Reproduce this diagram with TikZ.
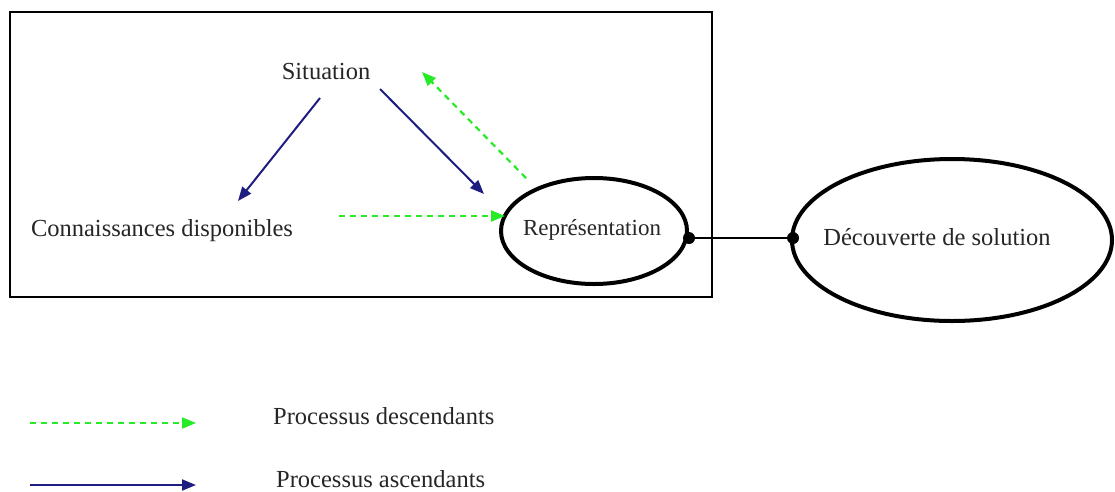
\documentclass[tikz,border=0pt]{standalone}
\usepackage{fontspec}
\setmainfont{Liberation Serif}
\usetikzlibrary{arrows.meta}
\definecolor{asc}{RGB}{30,30,128}
\definecolor{desc}{RGB}{40,235,40}
\begin{document}
\begin{tikzpicture}[x=1pt,y=-1pt,
  lbl/.style={font=\fontsize{24.5}{29}\selectfont, inner sep=0pt, text=black!85},
  ascarrow/.style={draw=asc, line width=2pt, -{Triangle[length=14pt,width=11pt]}},
  descarrow/.style={draw=desc, line width=2.2pt, dash pattern=on 6pt off 5pt, -{Triangle[length=14pt,width=11pt]}},
  dotend/.style={circle, fill=black, inner sep=0pt, minimum size=12pt}]
\useasboundingbox (0,0) rectangle (1115,491);
\node[draw=black, line width=1.5pt, minimum width=702pt, minimum height=285pt, inner sep=0pt] (frame) at (361,154.5) {};
\node[lbl] (sit) at (326,72) {Situation};
\node[lbl] (conn) at (162,231) {Connaissances disponibles};
\draw[line width=4pt] (594,231) ellipse [x radius=93, y radius=53];
\node[lbl, font=\fontsize{23}{27}\selectfont] (reptxt) at (592,230) {Représentation};
\draw[line width=4pt] (952,240) ellipse [x radius=160, y radius=81];
\node[lbl] (dec) at (937,237) {Découverte de solution};
\node[dotend] (d1) at (689,238) {};
\node[dotend] (d2) at (793,238) {};
\draw[line width=1.6pt] (d1) -- (d2);
% arrows
\coordinate (a1s) at (320,98);
\coordinate (a1e) at (238,201);
\coordinate (a2s) at (380,89);
\coordinate (a2e) at (484,194);
\coordinate (g1s) at (526,178);
\coordinate (g1e) at (422,72);
\coordinate (g2s) at (339,216);
\coordinate (g2e) at (505,216);
\draw[ascarrow] (a1s) -- (a1e);
\draw[ascarrow] (a2s) -- (a2e);
\draw[descarrow] (g1s) -- (g1e);
\draw[descarrow] (g2s) -- (g2e);
% legend
\coordinate (l1s) at (30,423);
\coordinate (l1e) at (196,423);
\coordinate (l2s) at (30,485);
\coordinate (l2e) at (196,485);
\draw[descarrow] (l1s) -- (l1e);
\draw[ascarrow] (l2s) -- (l2e);
\node[lbl, anchor=west] (ldesc) at (273,416) {Processus descendants};
\node[lbl, anchor=west] (lasc) at (276,479) {Processus ascendants};
\end{tikzpicture}
\end{document}
